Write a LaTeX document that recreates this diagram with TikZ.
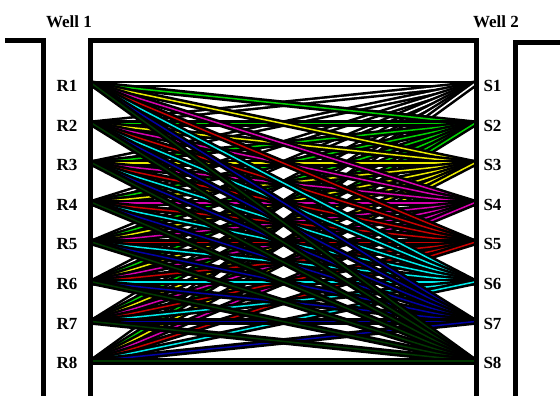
\documentclass[tikz,border=0pt]{standalone}
\usepackage{fontspec}
\setmainfont{Liberation Serif}
\definecolor{raygreen}{RGB}{0,210,0}
\definecolor{rayyellow}{RGB}{235,235,0}
\definecolor{raymagenta}{RGB}{215,0,175}
\definecolor{rayred}{RGB}{200,0,0}
\definecolor{raycyan}{RGB}{0,235,235}
\definecolor{rayblue}{RGB}{0,0,165}
\definecolor{raydark}{RGB}{0,55,0}
\tikzset{
  wall/.style={line width=5pt, line join=miter},
  welllabel/.style={font=\bfseries\fontsize{17}{19}\selectfont, inner sep=0pt},
  raybase/.style={line width=6.6pt, black},
  raytrace/.style={line width=1.5pt},
}

\begin{document}
\begin{tikzpicture}[x=1pt,y=-1pt]
        \useasboundingbox (0,0) rectangle (560,396);
        \fill[white] (0,0) rectangle (560,396);
        % wells and the box between them
        \draw[wall] (5,40.5) -- (43,40.5) -- (43,400);
        \draw[wall] (515,400) -- (515,42.5) -- (565,42.5);
        \node[welllabel] (well1) at (69,21.5) {Well 1};
        \node[welllabel] (well2) at (496,21.5) {Well 2};
        % receivers and sources
        \foreach \i in {1,...,8} {
            \coordinate (r\i) at (92.5,{84+(\i-1)*39.6});
            \coordinate (s\i) at (474.5,{84+(\i-1)*39.6});
            \node[welllabel] (rlab\i) at (67,{86+(\i-1)*39.6}) {R\i};
            \node[welllabel] (slab\i) at (492.5,{86+(\i-1)*39.6}) {S\i};
        }
        % rays, one fan per source
        \begin{scope}
        \clip (93,43) rectangle (474,396);
        \foreach \j/\c in {1/white,2/raygreen,3/rayyellow,4/raymagenta,5/rayred,6/raycyan,7/rayblue,8/raydark} {
            \foreach \i in {1,...,8} {
                \draw[raybase] (r\i) -- (s\j);
                \draw[raytrace, \c] (r\i) -- (s\j);
            }
        }
        \end{scope}
        \draw[wall] (90.5,400) -- (90.5,40.5) -- (476.5,40.5) -- (476.5,400);
\end{tikzpicture}
\end{document}
